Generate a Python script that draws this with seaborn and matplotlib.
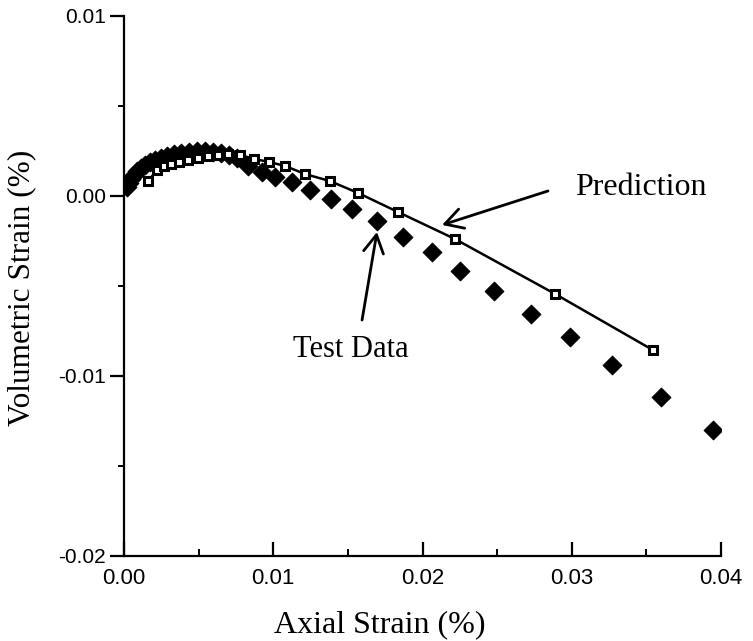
import numpy as np
import pandas as pd
import matplotlib
matplotlib.use("Agg")
import matplotlib.pyplot as plt
from matplotlib.ticker import MultipleLocator, FixedLocator
import seaborn as sns

# ---- data ----
test_x = [0.00020, 0.00034, 0.00047, 0.00067, 0.00087, 0.00114, 0.00141, 0.00174,
          0.00208, 0.00248, 0.00288, 0.00335, 0.00382, 0.00436, 0.00489, 0.00543,
          0.00596, 0.00650, 0.00704, 0.00757, 0.00831, 0.00925, 0.01012, 0.01126,
          0.01246, 0.01387, 0.01528, 0.01695, 0.01869, 0.02064, 0.02251, 0.02479,
          0.02727, 0.02988, 0.03270, 0.03598, 0.03946]
test_y = [0.00050, 0.00072, 0.00094, 0.00117, 0.00139, 0.00156, 0.00172, 0.00189,
          0.00200, 0.00211, 0.00222, 0.00233, 0.00239, 0.00244, 0.00250, 0.00250,
          0.00244, 0.00239, 0.00228, 0.00211, 0.00167, 0.00133, 0.00106, 0.00078,
          0.00033, -0.00017, -0.00072, -0.00139, -0.00228, -0.00311, -0.00417, -0.00528,
          -0.00656, -0.00783, -0.00939, -0.01117, -0.01300]

pred_x = [0.00161, 0.00221, 0.00268, 0.00315, 0.00369, 0.00429, 0.00496, 0.00563,
          0.00630, 0.00697, 0.00777, 0.00871, 0.00972, 0.01079, 0.01213, 0.01380,
          0.01568, 0.01836, 0.02218, 0.02888, 0.03544]
pred_y = [0.00083, 0.00144, 0.00167, 0.00178, 0.00189, 0.00200, 0.00211, 0.00222,
          0.00228, 0.00233, 0.00228, 0.00206, 0.00189, 0.00167, 0.00122, 0.00083,
          0.00017, -0.00089, -0.00239, -0.00544, -0.00856]

x_ticks = [0.00, 0.01, 0.02, 0.03, 0.04]
x_tick_labels = ["0.00", "0.01", "0.02", "0.03", "0.04"]
y_ticks = [-0.02, -0.01, 0.00, 0.01]
y_tick_labels = ["-0.02", "-0.01", "0.00", "0.01"]

x_label = "Axial Strain (%)"
y_label = "Volumetric Strain (%)"
pred_text = "Prediction"
test_text = "Test Data"

test_df = pd.DataFrame({"x": test_x, "y": test_y})
pred_df = pd.DataFrame({"x": pred_x, "y": pred_y})

sns.set_theme(style="ticks")
plt.rcParams["font.family"] = ["Liberation Serif", "DejaVu Serif"]

fig = plt.figure(figsize=(7.53, 6.41), dpi=100)
ax = fig.add_axes([124 / 753, 1 - 556 / 641, (721 - 124) / 753, (556 - 16) / 641])

sns.scatterplot(data=test_df, x="x", y="y", ax=ax, marker="D", s=90,
                color="black", edgecolor="black", linewidth=0.8, zorder=2)
sns.lineplot(data=pred_df, x="x", y="y", ax=ax, sort=False, color="black",
             linewidth=1.8, marker="s", markersize=5.5, markerfacecolor="white",
             markeredgecolor="black", markeredgewidth=2.2, zorder=3)

ax.set_xlim(0.0, 0.04)
ax.set_ylim(-0.02, 0.01)
sns.despine(ax=ax)
for sp in ["left", "bottom"]:
    ax.spines[sp].set_linewidth(1.6)
    ax.spines[sp].set_color("black")

ax.xaxis.set_major_locator(FixedLocator(x_ticks))
ax.yaxis.set_major_locator(FixedLocator(y_ticks))
ax.xaxis.set_minor_locator(MultipleLocator(0.005))
ax.yaxis.set_minor_locator(MultipleLocator(0.005))
ax.set_xticklabels(x_tick_labels, family=["Liberation Sans", "DejaVu Sans"], fontsize=16)
ax.set_yticklabels(y_tick_labels, family=["Liberation Sans", "DejaVu Sans"], fontsize=15)
ax.tick_params(axis="x", which="major", direction="in", length=10, width=1.6, pad=9, colors="black")
ax.tick_params(axis="x", which="minor", direction="in", length=5, width=1.4, colors="black")
ax.tick_params(axis="y", which="major", direction="out", length=10, width=1.6, pad=3, colors="black")
ax.tick_params(axis="y", which="minor", direction="out", length=4, width=1.4, colors="black")

ax.set_xlabel(x_label, fontsize=23, color="black", va="baseline")
ax.xaxis.set_label_coords((380 - 124) / 597, (556 - 632) / 540)
ax.set_ylabel(y_label, fontsize=22.5, color="black", va="center")
ax.yaxis.set_label_coords((22 - 124) / 597, (556 - 288) / 540)

arrow_kw = dict(arrowstyle="->,head_length=0.8,head_width=0.45", lw=2.0,
                color="black", mutation_scale=16, shrinkA=0, shrinkB=0)
ax.annotate("", xy=(0.02131, -0.00161), xytext=(0.02841, 0.00028), arrowprops=arrow_kw)
ax.text(0.03022, 0.00006, pred_text, fontsize=23, ha="left", va="baseline", color="black")
ax.annotate("", xy=(0.01695, -0.00200), xytext=(0.01595, -0.00689), arrowprops=arrow_kw)
ax.text(0.01521, -0.00894, test_text, fontsize=22, ha="center", va="baseline", color="black")

fig.savefig("out.png", dpi=100)
